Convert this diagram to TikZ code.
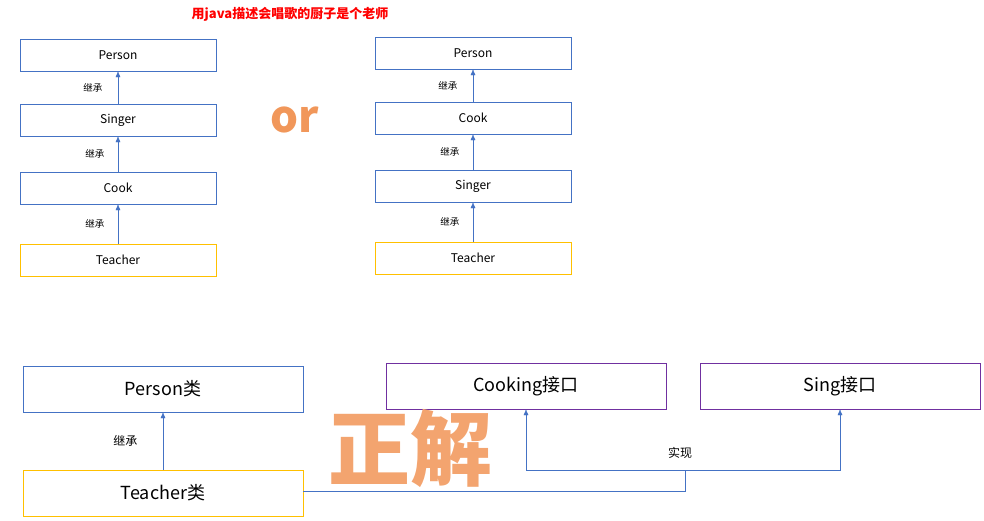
\documentclass[tikz,border=0pt]{standalone}
\usepackage{fontspec}
\setmainfont{Noto Sans CJK SC}
\usetikzlibrary{arrows.meta,positioning}
\definecolor{boxblue}{HTML}{4472C4}
\definecolor{boxgold}{HTML}{FFC000}
\definecolor{boxviolet}{HTML}{7030A0}
\definecolor{hiorange}{HTML}{ED7D31}
\tikzset{
    cls/.style={draw=boxblue,minimum width=196pt,minimum height=32pt,font=\fontsize{12}{14}\selectfont},
    leaf/.style={cls,draw=boxgold},
    big/.style={draw=boxblue,minimum width=280pt,minimum height=46pt,font=\fontsize{18}{21}\selectfont},
    iface/.style={big,draw=boxviolet},
    tag/.style={font=\fontsize{9.5}{11}\selectfont},
    up/.style={draw=boxblue,-{Latex[length=6pt,width=5pt]}}
}
\begin{document}
\begin{tikzpicture}[x=1pt,y=-1pt]
    \useasboundingbox (0,0) rectangle (984,520);

    \node[text=red,font=\bfseries\fontsize{13}{15}\selectfont] (title) at (290,14) {用java描述会唱歌的厨子是个老师};

    % left chain
    \node[cls]  (p_1) at (118,55)  {Person};
    \node[cls]  (s_1) at (118,120) {Singer};
    \node[cls]  (c_1) at (118,188) {Cook};
    \node[leaf] (t_1) at (118,260) {Teacher};
    \draw[up] (s_1) -- node[tag,left=12pt] {继承} (p_1);
    \draw[up] (c_1) -- node[tag,left=10pt] {继承} (s_1);
    \draw[up] (t_1) -- node[tag,left=10pt] {继承} (c_1);

    \node[text=hiorange!80,font=\bfseries\fontsize{44}{46}\selectfont] (or) at (295,120) {or};

    % right chain
    \node[cls]  (p_2) at (473,53)  {Person};
    \node[cls]  (c_2) at (473,118) {Cook};
    \node[cls]  (s_2) at (473,186) {Singer};
    \node[leaf] (t_2) at (473,258) {Teacher};
    \draw[up] (c_2) -- node[tag,left=12pt] {继承} (p_2);
    \draw[up] (s_2) -- node[tag,left=10pt] {继承} (c_2);
    \draw[up] (t_2) -- node[tag,left=10pt] {继承} (s_2);

    % answer
    \node[big]  (person) at (163,389) {Person类};
    \node[big,draw=boxgold] (teacher) at (163,493) {Teacher类};
    \node[iface] (cooking) at (526,386) {Cooking接口};
    \node[iface] (sing) at (840,386) {Sing接口};
    \draw[up] (teacher) -- node[font=\fontsize{12}{14}\selectfont,left=22pt] {继承} (person);
    \coordinate (joint) at (685,470);
    \draw[draw=boxblue] (teacher.east |- 0,491) -| (joint);
    \draw[up] (joint) -| (cooking.south);
    \draw[up] (joint) -| (sing.south);
    \node[font=\fontsize{12}{14}\selectfont] (impl) at (680,453) {实现};

    \node[text=hiorange!70,font=\bfseries\fontsize{82}{84}\selectfont] (ok) at (410,448) {正解};
\end{tikzpicture}
\end{document}
